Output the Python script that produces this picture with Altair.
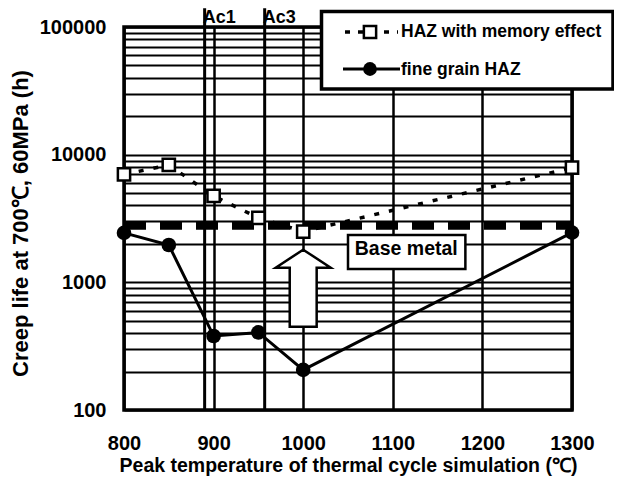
import json
import altair as alt
import pandas as pd

# ---- data ----
temps = [800, 850, 900, 950, 1000, 1300]
memory_life = [7000, 8300, 4750, 3200, 2500, 7900]
fine_life = [2440, 1960, 380, 405, 206, 2450]
series_names = ["HAZ with memory effect", "fine grain HAZ"]
base_metal_life = 2780
base_metal_label = "Base metal"
ac_temps = [890, 957]
ac_names = ["Ac1", "Ac3"]
x_ticks = [800, 900, 1000, 1100, 1200, 1300]
y_grid = [100, 200, 300, 400, 500, 600, 700, 800, 900,
          1000, 2000, 3000, 4000, 5000, 6000, 7000, 8000, 9000,
          10000, 20000, 30000, 40000, 50000, 60000, 70000, 80000, 90000,
          100000]
y_labels = ["100", "1000", "10000", "100000"]

FONT = "Liberation Sans"
ARROW = "M0,-1 L0.714,-0.532 L0.35,-0.532 L0.35,1 L-0.35,1 L-0.35,-0.532 L-0.714,-0.532 Z"

mem_df = pd.DataFrame({"temp": temps, "life": memory_life})
fine_df = pd.DataFrame({"temp": temps, "life": fine_life})
ac_df = pd.DataFrame({"temp": ac_temps, "name": ac_names})
one = alt.Data(values=[{"k": 0}])

xs = alt.Scale(domain=[800, 1300], nice=False, zero=False)
ys = alt.Scale(type="log", domain=[100, 100000], nice=False)

x_axis = alt.Axis(values=x_ticks, title="Peak temperature of thermal cycle simulation (℃)",
                  grid=True, gridColor="black", gridWidth=2.5, gridOpacity=1,
                  ticks=False, domain=False, labelPadding=23, format="d",
                  labelFontSize=20, titleFontSize=19.5, titlePadding=3,
                  labelFlush=False, labelOverlap=False)
y_axis = alt.Axis(values=y_grid, title="Creep life at 700℃, 60MPa (h)",
                  grid=True, gridColor="black", gridWidth=2, gridOpacity=1,
                  ticks=False, domain=False, labelPadding=18, format="d",
                  labelExpr="indexof(" + json.dumps(y_labels) + ", datum.label) >= 0 ? datum.label : ''",
                  labelFontSize=20, titleFontSize=22, titlePadding=7, titleY=196,
                  labelOverlap=False)


def X(field=None, datum=None):
    if field is not None:
        return alt.X(field, scale=xs, axis=x_axis)
    return alt.X(datum=datum, scale=xs, axis=x_axis)


def Y(field=None, datum=None):
    if field is not None:
        return alt.Y(field, scale=ys, axis=y_axis)
    return alt.Y(datum=datum, scale=ys, axis=y_axis)


frame = alt.Chart(one).mark_rect(filled=False, stroke="black", strokeWidth=3.5).encode(
    x=X(datum=800), x2=alt.X2(datum=1300), y=Y(datum=100), y2=alt.Y2(datum=100000))

ac_rules = alt.Chart(ac_df).mark_rule(color="black", strokeWidth=3).encode(
    x=X("temp:Q"), y=Y(datum=140000), y2=alt.Y2(datum=100))
ac_text = alt.Chart(ac_df).mark_text(align="left", baseline="alphabetic", dx=-2, font=FONT,
                                     fontSize=18, fontWeight="bold", color="black").encode(
    x=X("temp:Q"), y=Y(datum=107000), text="name:N")

base_rule = alt.Chart(one).mark_rule(color="black", strokeWidth=8, strokeDash=[22, 14]).encode(
    x=X(datum=800), x2=alt.X2(datum=1300), y=Y(datum=base_metal_life))

mem_line = alt.Chart(mem_df).mark_line(color="black", strokeWidth=3.5, strokeDash=[5, 10]).encode(
    x=X("temp:Q"), y=Y("life:Q"))
mem_pts = alt.Chart(mem_df).mark_point(shape="square", filled=True, fill="white", stroke="black",
                                       strokeWidth=2.5, size=150, opacity=1).encode(
    x=X("temp:Q"), y=Y("life:Q"))
fine_line = alt.Chart(fine_df).mark_line(color="black", strokeWidth=3).encode(
    x=X("temp:Q"), y=Y("life:Q"))
fine_pts = alt.Chart(fine_df).mark_circle(color="black", size=215, opacity=1).encode(
    x=X("temp:Q"), y=Y("life:Q"))

arrow = alt.Chart(one).mark_point(shape=ARROW, filled=True, fill="white", stroke="black",
                                  strokeWidth=2.5, size=5929, opacity=1).encode(
    x=X(datum=1000), y=Y(datum=900))

box = alt.Chart(one).mark_rect(fill="white", stroke="black", strokeWidth=2.5).encode(
    x=X(datum=1050), x2=alt.X2(datum=1181), y=Y(datum=2344), y2=alt.Y2(datum=1270))
box_text = alt.Chart(one).mark_text(text=base_metal_label, align="center", baseline="alphabetic",
                                    font=FONT, fontSize=19.5, fontWeight="bold", color="black").encode(
    x=X(datum=1115), y=Y(datum=1636))

# ---- legend (drawn as a boxed key, top right) ----
leg_box = alt.Chart(one).mark_rect(fill="white", stroke="black", strokeWidth=3.5).encode(
    x=alt.value(197.5), x2=alt.value(489), y=alt.value(-15.5), y2=alt.value(62))
leg_l1 = alt.Chart(one).mark_rule(color="black", strokeWidth=3.5, strokeDash=[5, 8]).encode(
    x=alt.value(221), x2=alt.value(274), y=alt.value(5))
leg_p1 = alt.Chart(one).mark_point(shape="square", filled=True, fill="white", stroke="black",
                                   strokeWidth=2.5, size=150, opacity=1).encode(
    x=alt.value(246), y=alt.value(5))
leg_l2 = alt.Chart(one).mark_rule(color="black", strokeWidth=3).encode(
    x=alt.value(219), x2=alt.value(276), y=alt.value(42))
leg_p2 = alt.Chart(one).mark_circle(color="black", size=190, opacity=1).encode(
    x=alt.value(246), y=alt.value(42))
leg_t1 = alt.Chart(one).mark_text(text=series_names[0], align="left", baseline="alphabetic",
                                  font=FONT, fontSize=17.5, fontWeight="bold", color="black").encode(
    x=alt.value(277), y=alt.value(10))
leg_t2 = alt.Chart(one).mark_text(text=series_names[1], align="left", baseline="alphabetic",
                                  font=FONT, fontSize=17.5, fontWeight="bold", color="black").encode(
    x=alt.value(277), y=alt.value(47.5))

chart = alt.layer(
    frame, ac_rules, ac_text, base_rule, mem_line, fine_line, mem_pts, fine_pts,
    arrow, box, box_text, leg_box, leg_l1, leg_p1, leg_l2, leg_p2, leg_t1, leg_t2
).properties(
    width=448, height=383,
    padding={"left": 116, "top": 19, "right": 42, "bottom": 68},
    autosize=alt.AutoSizeParams(type="none"),
    background="white",
).configure_view(stroke=None).configure_axis(
    labelFont=FONT, titleFont=FONT, labelFontWeight="bold", titleFontWeight="bold",
    labelColor="black", titleColor="black",
)

chart.save("out.html", embed_options={"renderer": "svg", "actions": False})
